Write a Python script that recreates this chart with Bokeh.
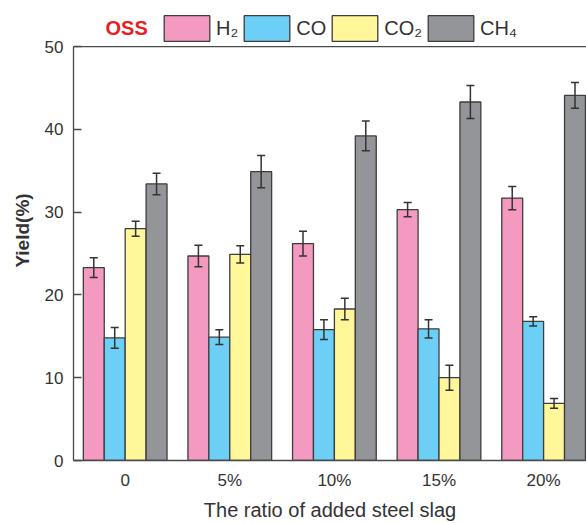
from bokeh.plotting import figure
from bokeh.models import (ColumnDataSource, Range1d, FixedTicker, Whisker, TeeHead,
                          Legend, LegendItem, Label, Span)
from bokeh.embed import file_html
from bokeh.resources import INLINE

# ---- data ----
ratios = ["0", "5%", "10%", "15%", "20%"]
gases = ["H\u2082", "CO", "CO\u2082", "CH\u2084"]
h2 = [23.3, 24.7, 26.2, 30.3, 31.7]
h2_err = [1.2, 1.3, 1.5, 0.85, 1.4]
co = [14.8, 14.9, 15.8, 15.9, 16.8]
co_err = [1.25, 0.9, 1.2, 1.1, 0.55]
co2 = [28.0, 24.9, 18.3, 10.0, 6.9]
co2_err = [0.9, 1.05, 1.3, 1.5, 0.6]
ch4 = [33.4, 34.9, 39.2, 43.3, 44.1]
ch4_err = [1.3, 1.95, 1.8, 2.0, 1.55]
y_ticks = [0, 10, 20, 30, 40, 50]
y_max = 50

series = [h2, co, co2, ch4]
errors = [h2_err, co_err, co2_err, ch4_err]
colors = ["#f49ac1", "#6dcff6", "#fff799", "#939598"]
bar_w = 0.2
offsets = [-0.3, -0.1, 0.1, 0.3]

FONT = "Liberation Sans"
AX = "#4a4a4a"

p = figure(width=586, height=523, output_backend="svg", toolbar_location=None,
           x_range=Range1d(-0.494, 4.41), y_range=Range1d(0, 55.56),
           min_border_left=73, min_border_right=0, min_border_top=0, min_border_bottom=63)
p.outline_line_color = None
p.grid.grid_line_color = None
p.background_fill_color = "white"

idx = list(range(len(ratios)))
renderers = []
for vals, errs, col, off in zip(series, errors, colors, offsets):
    src = ColumnDataSource(dict(x=[i + off for i in idx], top=vals,
                                upper=[v + e for v, e in zip(vals, errs)],
                                lower=[v - e for v, e in zip(vals, errs)]))
    r = p.vbar(x="x", top="top", width=bar_w, bottom=0, source=src,
               fill_color=col, line_color="#3d3d3d", line_width=1.3)
    renderers.append(r)
    wh = Whisker(base="x", upper="upper", lower="lower", source=src, level="overlay",
                 line_color="#333333", line_width=1.5,
                 upper_head=TeeHead(size=8, line_color="#333333", line_width=1.5),
                 lower_head=TeeHead(size=8, line_color="#333333", line_width=1.5))
    p.add_layout(wh)

# top frame line at y = 50
p.add_layout(Span(location=y_max, dimension="width", line_color=AX, line_width=1.3))

# x axis
p.xaxis.ticker = FixedTicker(ticks=idx)
p.xaxis.major_label_overrides = {i: r for i, r in zip(idx, ratios)}
p.xaxis.major_tick_out = 0
p.xaxis.major_tick_in = 0
p.xaxis.minor_tick_line_color = None
p.xaxis.major_label_standoff = 10
p.xaxis.axis_label = "The ratio of added steel slag"
p.xaxis.axis_label_standoff = 6
p.xaxis.axis_label_text_font_size = "20px"
p.xaxis.axis_label_text_font_style = "normal"

# y axis
p.yaxis.ticker = FixedTicker(ticks=y_ticks)
p.yaxis.bounds = (0, y_max)
p.yaxis.major_tick_in = 8
p.yaxis.major_tick_out = 0
p.yaxis.minor_tick_line_color = None
p.yaxis.major_label_standoff = 10
p.yaxis.axis_label = "Yield(%)"
p.yaxis.axis_label_standoff = 9
p.yaxis.axis_label_text_font_size = "19px"
p.yaxis.axis_label_text_font_style = "bold"

for ax in (p.xaxis, p.yaxis):
    ax.axis_line_color = AX
    ax.axis_line_width = 1.3
    ax.major_tick_line_width = 1.3
    ax.major_label_text_font = FONT
    ax.major_label_text_font_size = "17px"
    ax.major_label_text_color = "#333333"
    ax.axis_label_text_font = FONT
    ax.axis_label_text_color = "#333333"
p.xaxis.major_tick_line_color = None
p.yaxis.major_tick_line_color = AX

legend = Legend(items=[LegendItem(label=g, renderers=[r]) for g, r in zip(gases, renderers)],
                orientation="horizontal", location=(85, 416),
                glyph_width=57, glyph_height=32, label_standoff=1, spacing=0,
                padding=0, margin=0, border_line_color=None, background_fill_alpha=0,
                label_text_font=FONT, label_text_font_size="20px",
                label_text_color="#333333", label_text_baseline="middle")
p.add_layout(legend, "center")

p.add_layout(Label(x=32, y=433, x_units="screen", y_units="screen", text="OSS",
                   text_font=FONT, text_font_size="20px", text_font_style="bold",
                   text_color="#ed1c24", text_baseline="middle"))

open("out.html", "w").write(file_html(p, INLINE))
